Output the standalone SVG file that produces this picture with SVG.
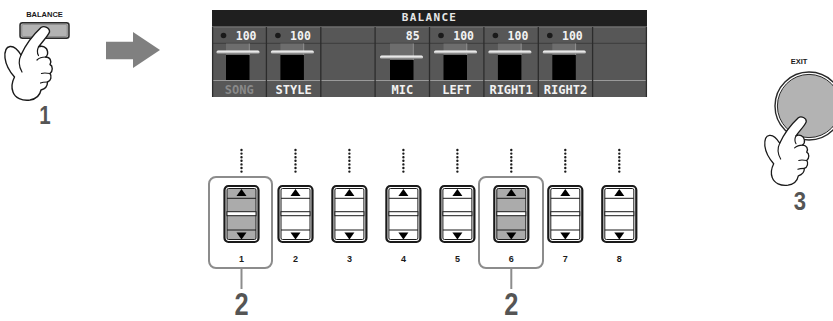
<svg xmlns="http://www.w3.org/2000/svg" xmlns:xlink="http://www.w3.org/1999/xlink" width="833" height="321" viewBox="0 0 833 321">
  <style>
    .lcd { font-family: "DejaVu Sans Mono", "Liberation Mono", monospace; font-weight: bold; }
    .val { font-size: 11.5px; fill: #f2f2f2; text-anchor: end; }
    .lbl { font-size: 12px; fill: #f2f2f2; text-anchor: middle; }
    .panel { font-family: "Liberation Sans", Arial, sans-serif; font-weight: bold; fill: #1a1a1a; text-anchor: middle; }
    .step { font-family: "Liberation Sans", Arial, sans-serif; font-weight: bold; fill: #555; text-anchor: middle; }
    .hand { fill: #fff; stroke: #1a1a1a; stroke-width: 1.4; stroke-linejoin: round; stroke-linecap: round; }
    .crease { fill: none; stroke: #1a1a1a; stroke-width: 1.2; stroke-linecap: round; }
    .dots { stroke: #1a1a1a; stroke-width: 2.4; stroke-dasharray: 0 3.6; stroke-linecap: round; }
    .callout { fill: none; stroke: #8c8c8c; stroke-width: 2; }
    .track { fill: #6d6d6d; }
    .meter { fill: #000; }
    .div { stroke: #2c2c2c; stroke-width: 1.3; }
  </style>
  <defs>
    <linearGradient id="faderGrad" x1="0" y1="0" x2="0" y2="1">
      <stop offset="0" stop-color="#ffffff"/>
      <stop offset="0.5" stop-color="#dcdcdc"/>
      <stop offset="1" stop-color="#8a8a8a"/>
    </linearGradient>
    <!-- pointing hand, fingertip near (46,30) -->
    <g id="handShape">
      <path class="hand" d="M 41,27.5 C 44,25.5 50,27.5 49.5,32 C 48,36 42,42 38.5,47 C 42,45 47,47 47.5,51.5 C 48,54 47,56 45.5,57 C 50,57 52,61 50,64.5 C 53,66 53,71 50,73.5 C 52,76 51,81 47.5,82 C 47.5,86 45,89 41,90 C 40,95 36,99 30,100 C 22,101 15,98 13,92 C 11,87 12,82 14.5,77 C 10,72 6,66 5,58 C 4.5,52 6,47 10,46.5 C 14,46 18,50 21,55 C 25,46 33,35 41,27.5 Z"/>
      <path class="crease" d="M 45.5,57 C 42,57 39,58 37,60 M 50,73.5 C 47,73 44,72.5 41.5,73.5 M 47.5,82 C 45,82 42.5,82 40.5,83 M 21,55 C 18.5,60 18.5,66 22,72 M 38.5,47 C 37,50 37,53 38.5,55.5"/>
    </g>
    <!-- up/down button, 36 x 58 -->
    <g id="btnPlain">
      <rect x="1" y="1" width="34" height="56" rx="4" fill="#fff" stroke="#1a1a1a" stroke-width="2.2"/>
      <rect x="3.5" y="3.5" width="29" height="51" rx="1.5" fill="#fff" stroke="#1a1a1a" stroke-width="1"/>
      <line x1="3.5" y1="13.3" x2="32.5" y2="13.3" stroke="#1a1a1a" stroke-width="1"/>
      <rect x="3.5" y="26.7" width="29" height="4" fill="#fff" stroke="#1a1a1a" stroke-width="1"/>
      <line x1="3.5" y1="45" x2="32.5" y2="45" stroke="#1a1a1a" stroke-width="1"/>
      <polygon points="18,4 23,11 13,11" fill="#000"/>
      <polygon points="13,47.5 23,47.5 18,54.5" fill="#000"/>
    </g>
    <g id="btnLit">
      <rect x="1" y="1" width="34" height="56" rx="4" fill="#fff" stroke="#1a1a1a" stroke-width="2.2"/>
      <rect x="3.5" y="3.5" width="29" height="51" rx="1.5" fill="#ababab" stroke="#1a1a1a" stroke-width="1"/>
      <line x1="3.5" y1="13.3" x2="32.5" y2="13.3" stroke="#1a1a1a" stroke-width="1"/>
      <rect x="3.5" y="26.7" width="29" height="4" fill="#fff" stroke="#1a1a1a" stroke-width="1"/>
      <line x1="3.5" y1="45" x2="32.5" y2="45" stroke="#1a1a1a" stroke-width="1"/>
      <polygon points="18,4 23,11 13,11" fill="#000"/>
      <polygon points="13,47.5 23,47.5 18,54.5" fill="#000"/>
    </g>
    <!-- one mixer channel strip (fader at 100) -->
    <g id="strip100">
      <rect class="track" x="14" y="43.5" width="23.5" height="12"/>
      <line x1="37.3" y1="43.5" x2="37.3" y2="55" stroke="#9a9a9a" stroke-width="0.8"/>
      <rect class="meter" x="14" y="55" width="23.5" height="25"/>
      <rect x="4.5" y="50.5" width="43" height="3.2" rx="1.5" fill="url(#faderGrad)"/>
      <circle cx="11.5" cy="35.5" r="2.8" fill="#1a1a1a"/>
    </g>
  </defs>

  <!-- BALANCE panel button with hand -->
  <g id="balance-button">
    <text class="panel" x="44.5" y="17" font-size="7.5">BALANCE</text>
    <rect x="20" y="22.7" width="49" height="15.6" rx="2.5" fill="#b3b3b3" stroke="#2a2a2a" stroke-width="1.5"/>
    <rect x="21.8" y="24.5" width="45.4" height="12" rx="1.5" fill="none" stroke="#808080" stroke-width="0.7"/>
    <use xlink:href="#handShape"/>
    <text class="step" x="0" y="0" font-size="25" transform="translate(45,123.5) scale(0.82,1)">1</text>
  </g>

  <!-- BALANCE display -->
  <g id="balance-display">
    <rect x="212" y="10" width="435" height="87" fill="#575757"/>
    <rect x="212" y="10" width="435" height="16.5" fill="#1f1f1f"/>
    <text class="lcd" x="429.5" y="21" font-size="11" fill="#e6e6e6" text-anchor="middle" letter-spacing="1.3">BALANCE</text>
    <line x1="212" y1="27" x2="647" y2="27" stroke="#7a7a7a" stroke-width="1"/>
    <line x1="212" y1="43.3" x2="647" y2="43.3" stroke="#3c3c3c" stroke-width="1"/>
    <line x1="212" y1="80.5" x2="647" y2="80.5" stroke="#9a9a9a" stroke-width="1"/>
    <g>
      <line class="div" x1="212.6" y1="27" x2="212.6" y2="97"/>
      <line class="div" x1="266.4" y1="27" x2="266.4" y2="97"/>
      <line class="div" x1="320.8" y1="27" x2="320.8" y2="97"/>
      <line class="div" x1="375.1" y1="27" x2="375.1" y2="97"/>
      <line class="div" x1="429.5" y1="27" x2="429.5" y2="97"/>
      <line class="div" x1="483.9" y1="27" x2="483.9" y2="97"/>
      <line class="div" x1="538.3" y1="27" x2="538.3" y2="97"/>
      <line class="div" x1="592.6" y1="27" x2="592.6" y2="97"/>
      <line class="div" x1="646.4" y1="27" x2="646.4" y2="97"/>
    </g>
    <!-- SONG -->
    <use xlink:href="#strip100" x="212"/>
    <text class="lcd val" x="256.5" y="39.5">100</text>
    <text class="lcd lbl" x="239.2" y="94" style="fill:#8a8a8a">SONG</text>
    <!-- STYLE -->
    <use xlink:href="#strip100" x="266.4"/>
    <text class="lcd val" x="310.9" y="39.5">100</text>
    <text class="lcd lbl" x="293.6" y="94">STYLE</text>
    <!-- MIC -->
    <rect class="track" x="390" y="43.5" width="23.5" height="17"/>
    <line x1="413.3" y1="43.5" x2="413.3" y2="60" stroke="#9a9a9a" stroke-width="0.8"/>
    <rect class="meter" x="390" y="60" width="23.5" height="20"/>
    <rect x="380" y="55.5" width="43" height="3.2" rx="1.5" fill="url(#faderGrad)"/>
    <text class="lcd val" x="419.6" y="39.5">85</text>
    <text class="lcd lbl" x="402.3" y="94">MIC</text>
    <!-- LEFT -->
    <use xlink:href="#strip100" x="429.5"/>
    <text class="lcd val" x="474" y="39.5">100</text>
    <text class="lcd lbl" x="456.7" y="94">LEFT</text>
    <!-- RIGHT1 -->
    <use xlink:href="#strip100" x="483.9"/>
    <text class="lcd val" x="528.4" y="39.5">100</text>
    <text class="lcd lbl" x="511.1" y="94">RIGHT1</text>
    <!-- RIGHT2 -->
    <use xlink:href="#strip100" x="538.3"/>
    <text class="lcd val" x="582.8" y="39.5">100</text>
    <text class="lcd lbl" x="565.5" y="94">RIGHT2</text>
  </g>

  <!-- EXIT button with hand -->
  <g id="exit-button">
    <text class="panel" x="799" y="63.5" font-size="7.5">EXIT</text>
    <circle cx="809" cy="106" r="34" fill="#fff" stroke="#2a2a2a" stroke-width="1.4"/>
    <circle cx="809" cy="106" r="31.6" fill="#b3b3b3" stroke="#2a2a2a" stroke-width="1"/>
    <use xlink:href="#handShape" transform="translate(760.2,92.1) scale(0.93)"/>
    <text class="step" x="0" y="0" font-size="26" transform="translate(800,210) scale(0.85,1)">3</text>
  </g>

  <!-- up/down buttons 1-8 -->
  <g id="button-1"><use xlink:href="#btnLit" x="223.5" y="185"/><text class="panel" x="241.5" y="262" font-size="9">1</text></g>
  <g id="button-2"><use xlink:href="#btnPlain" x="277.5" y="185"/><text class="panel" x="295.5" y="262" font-size="9">2</text></g>
  <g id="button-3"><use xlink:href="#btnPlain" x="331.4" y="185"/><text class="panel" x="349.4" y="262" font-size="9">3</text></g>
  <g id="button-4"><use xlink:href="#btnPlain" x="385.4" y="185"/><text class="panel" x="403.4" y="262" font-size="9">4</text></g>
  <g id="button-5"><use xlink:href="#btnPlain" x="439.4" y="185"/><text class="panel" x="457.4" y="262" font-size="9">5</text></g>
  <g id="button-6"><use xlink:href="#btnLit" x="493.3" y="185"/><text class="panel" x="511.3" y="262" font-size="9">6</text></g>
  <g id="button-7"><use xlink:href="#btnPlain" x="547.3" y="185"/><text class="panel" x="565.3" y="262" font-size="9">7</text></g>
  <g id="button-8"><use xlink:href="#btnPlain" x="601.3" y="185"/><text class="panel" x="619.3" y="262" font-size="9">8</text></g>

  <!-- step 2 callouts -->
  <g id="callout-1">
    <rect class="callout" x="209" y="177" width="63" height="91" rx="7"/>
    <text class="step" x="0" y="0" font-size="31" transform="translate(241.5,314.5) scale(0.82,1)">2</text>
  </g>
  <g id="callout-6">
    <rect class="callout" x="479" y="177" width="64" height="91" rx="7"/>
    <text class="step" x="0" y="0" font-size="31" transform="translate(511.3,314.5) scale(0.82,1)">2</text>
  </g>

  <!-- connectors -->
  <g id="connectors">
    <polygon points="106,41.7 133,41.7 133,32 160,50 133,68 133,59.3 106,59.3" fill="#808080"/>
    <line class="dots" x1="241.5" y1="150" x2="241.5" y2="173"/>
    <line class="dots" x1="295.5" y1="150" x2="295.5" y2="173"/>
    <line class="dots" x1="349.4" y1="150" x2="349.4" y2="173"/>
    <line class="dots" x1="403.4" y1="150" x2="403.4" y2="173"/>
    <line class="dots" x1="457.4" y1="150" x2="457.4" y2="173"/>
    <line class="dots" x1="511.3" y1="150" x2="511.3" y2="173"/>
    <line class="dots" x1="565.3" y1="150" x2="565.3" y2="173"/>
    <line class="dots" x1="619.3" y1="150" x2="619.3" y2="173"/>
    <line class="callout" x1="241.5" y1="268" x2="241.5" y2="289"/>
    <line class="callout" x1="511.3" y1="268" x2="511.3" y2="289"/>
  </g>
</svg>
